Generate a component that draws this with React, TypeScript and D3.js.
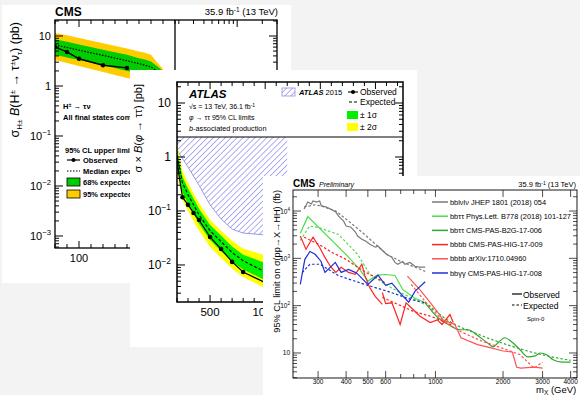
import React from 'react';
import * as d3 from 'd3';

const FONT = 'Liberation Sans, Arial, Helvetica, sans-serif';

// ---------- CMS  H+ -> tau nu (back panel) ----------
const hpMassObs = [80, 90, 100, 120, 140];
const hpObs = [6.0, 4.8, 3.5, 2.6, 2.3];
const hpMassExp = [80, 90, 100, 120, 140, 150, 155, 160, 165, 170];
const hpExp = [6.6, 5.9, 5.2, 4.1, 3.2, 2.8, 2.6, 2.4, 2.0, 1.7];
const hpUp2 = [11.5, 10.3, 9.1, 7.2, 5.6, 4.9, 4.6, 4.2, 3.0, 2.2];
const hpUp1 = [8.6, 7.7, 6.8, 5.3, 4.2, 3.6, 3.4, 3.1, 2.5, 2.0];
const hpDn1 = [4.2, 3.7, 3.3, 2.6, 2.0, 1.8, 1.65, 1.5, 1.3, 1.1];
const hpDn2 = [3.3, 2.9, 2.5, 1.9, 1.45, 1.3, 1.2, 1.1, 0.95, 0.8];
const hpXLabels = [100, 1000];

// ---------- ATLAS  phi -> tau tau (middle panel) ----------
const atMass = [200, 250, 300, 350, 400, 500, 600, 700, 800, 1000];
const atObs = [0.78, 0.18, 0.13, 0.092, 0.068, 0.033, 0.0197, 0.0114, 0.0074, 0.0047];
const atExp = [1.05, 0.33, 0.2, 0.13, 0.085, 0.043, 0.027, 0.017, 0.012, 0.0074];
const atUp2 = [1.7, 0.55, 0.33, 0.21, 0.14, 0.068, 0.043, 0.028, 0.02, 0.0152];
const atUp1 = [1.35, 0.43, 0.26, 0.17, 0.11, 0.055, 0.035, 0.022, 0.0155, 0.0109];
const atDn1 = [0.72, 0.22, 0.135, 0.088, 0.058, 0.029, 0.018, 0.0115, 0.0082, 0.0052];
const atDn2 = [0.52, 0.16, 0.1, 0.065, 0.043, 0.0217, 0.0135, 0.0086, 0.006, 0.0037];
const at2015Mass = [200, 300, 400, 500, 600, 700, 800, 1000, 1200];
const at2015Lim = [1.35, 0.65, 0.3, 0.13, 0.071, 0.046, 0.039, 0.036, 0.035];
const atXLabels = [500, 1000, 1500, 2000];

// ---------- CMS  X -> HH (front panel) ----------
const bblvMassObs = [260, 270, 280, 285, 295, 305, 310, 325, 340, 360, 370, 390, 400, 420, 440, 450, 470, 490, 510, 540, 555, 585, 605, 640, 660, 680, 715, 730, 770, 810, 850, 900];
const bblvObs = [11000, 15500, 14100, 16300, 15500, 16300, 12800, 12200, 11000, 9500, 7800, 6100, 4800, 4550, 3600, 2950, 2540, 2300, 1990, 1720, 1800, 1410, 1220, 1050, 820, 750, 860, 750, 820, 680, 650, 650];
const bblvMassExp = [260, 290, 310, 360, 410, 470, 540, 610, 700, 810, 900];
const bblvExp = [12200, 13500, 12800, 10000, 6100, 3600, 2000, 1200, 860, 650, 530];

const ttMassObs = [250, 270, 400, 460, 500, 550, 600, 660, 715, 800, 900];
const ttObs = [3400, 7600, 1200, 585, 330, 440, 455, 435, 220, 148, 115];
const ttMassExp = [250, 275, 300, 370, 450, 510, 600, 680, 810, 900];
const ttExp = [2400, 4800, 4500, 3200, 1220, 460, 280, 200, 135, 105];

const tbMassObs = [900, 1030, 1130, 1290, 1400, 1530, 1700, 1810, 1900, 2040, 2190, 2380, 2580, 2780, 2920, 3130, 3340, 3670, 4000];
const tbObs = [115, 55, 41, 31, 31, 24, 16.5, 13.5, 16.5, 21, 17, 11.7, 8.3, 8.7, 10, 9.2, 7.2, 6.4, 6.4];
const tbMassExp = [900, 1130, 1580, 2230, 3130, 4000];
const tbExp = [120, 50, 24, 13.5, 8.7, 7];

const b4lMassObs = [250, 265, 285, 305, 320, 340, 360, 380, 410, 440, 470, 485, 510, 540, 580];
const b4lObs = [2950, 1560, 2800, 1700, 1100, 680, 505, 645, 505, 460, 750, 430, 240, 155, 106];
const b4lMassExp = [260, 300, 350, 400, 450, 500, 550, 600];
const b4lExp = [2800, 2000, 1300, 950, 650, 480, 380, 300];

const b4hMassObs = [580, 600, 640, 696, 740, 795, 854, 947, 1020, 1070, 1160, 1200];
const b4hObs = [190, 110, 115, 40, 115, 83, 60, 44, 50, 40, 65, 44];
const b4hMassExp = [580, 700, 800, 960, 1100, 1200];
const b4hExp = [150, 100, 75, 59, 45, 38];

const b4bMassObs = [750, 850, 950, 1030, 1080, 1220, 1300, 1540, 1750, 2000, 2200, 2300, 2400, 2750, 3000];
const b4bObs = [420, 220, 115, 70, 50, 40, 21, 15, 13, 11, 10.5, 5, 4.8, 5, 4.8];
const b4bMassExp = [780, 850, 950, 1100, 1300, 1600, 2000, 2380, 2750, 3000];
const b4bExp = [280, 170, 90, 45, 28, 18, 12.5, 9.2, 4.8, 6.4];

const ggMassObs = [250, 262, 276, 291, 309, 322, 358, 380, 410, 439, 452, 500, 555, 600, 640, 700, 760, 810, 900];
const ggObs = [281, 954, 1400, 1220, 870, 505, 820, 505, 585, 505, 458, 281, 440, 270, 300, 180, 118, 200, 320];
const ggMassExp = [255, 276, 306, 370, 486, 614, 780, 900];
const ggExp = [500, 750, 750, 430, 280, 200, 135, 115];

const hhNames = ['bblνlν JHEP 1801 (2018) 054', 'bbττ Phys.Lett. B778 (2018) 101-127', 'bbττ CMS-PAS-B2G-17-006', 'bbbb CMS-PAS-HIG-17-009', 'bbbb arXiv:1710.04960', 'bbγγ CMS-PAS-HIG-17-008'];
const hhColors = ['#7a7a7a', '#4cdc4c', '#2ea82e', '#ff2424', '#ff5252', '#1f2fd6'];
const hhXLabels = [300, 400, 500, 600, 1000, 2000, 3000, 4000];
const hhXTicks = [300, 400, 500, 600, 700, 800, 900, 1000, 2000, 3000, 4000];

// scales
const hpLin = d3.scaleLinear().domain([80, 180]).range([55, 175]);
const hpLog = d3.scaleLog().domain([180, 3000]).range([175, 277]);
const hpX = (m: number) => (m <= 180 ? hpLin(m) : hpLog(m));
const hpY = d3.scaleLog().domain([5.75e-4, 20.9]).range([248, 20]);

const atX = d3.scaleLinear().domain([200, 2250]).range([177, 403]);
const atY = d3.scaleLog().domain([0.00206, 24.5]).range([302, 82]);

const hhX = d3.scaleLog().domain([232, 4270]).range([293, 577]);
const hhY = d3.scaleLog().domain([2.96, 27800]).range([378, 190]);

function logTicks(lo: number, hi: number) {
  const out: { v: number; major: boolean }[] = [];
  for (let e = Math.floor(Math.log10(lo)); e <= Math.ceil(Math.log10(hi)); e++) {
    for (let k = 1; k < 10; k++) {
      const v = k * Math.pow(10, e);
      if (v >= lo && v <= hi) out.push({ v, major: k === 1 });
    }
  }
  return out;
}

const pathOf = (ms: number[], vs: number[], sx: (m: number) => number, sy: (v: number) => number, curve: any = d3.curveLinear) =>
  d3.line<number>().x(i => sx(ms[i])).y(i => sy(vs[i])).curve(curve)(d3.range(ms.length)) || '';

const bandOf = (ms: number[], lo: number[], hi: number[], sx: (m: number) => number, sy: (v: number) => number) =>
  d3.area<number>().x(i => sx(ms[i])).y0(i => sy(lo[i])).y1(i => sy(hi[i]))(d3.range(ms.length)) || '';

function Pow({ exp, size }: { exp: string; size: number }) {
  return (
    <>
      10<tspan dy={-size * 0.45} fontSize={size * 0.7}>{exp}</tspan>
    </>
  );
}

function HplusPanel() {
  const yt = logTicks(5.75e-4, 20.9);
  const xTop = [...d3.range(80, 181, 10), 200, 300, 400, 500, 600, 700, 800, 900, 1000, 2000, 3000];
  const decLabels = [10, 1, 0.1, 0.01, 0.001];
  return (
    <g>
      <rect x={2} y={5} width={289} height={278} fill="#fff" />
      <g clipPath="url(#clipHp)">
        <path d={bandOf(hpMassExp, hpDn2, hpUp2, hpX, hpY)} fill="#ffcc00" />
        <path d={bandOf(hpMassExp, hpDn1, hpUp1, hpX, hpY)} fill="#00cc00" />
        <path d={pathOf(hpMassExp, hpExp, hpX, hpY)} fill="none" stroke="#000" strokeWidth={1.2} strokeDasharray="1.5,1.5" />
        <path d={pathOf(hpMassObs, hpObs, hpX, hpY)} fill="none" stroke="#000" strokeWidth={1.4} />
        {hpMassObs.map((m, i) => <circle key={i} cx={hpX(m)} cy={hpY(hpObs[i])} r={2.2} fill="#000" />)}
        <line x1={hpX(180)} x2={hpX(180)} y1={20} y2={248} stroke="#000" strokeWidth={1.3} />
      </g>
      <rect x={55} y={20} width={222} height={228} fill="none" stroke="#000" strokeWidth={1.3} />
      {yt.map((t, i) => (
        <g key={i} stroke="#000" strokeWidth={1}>
          <line x1={55} x2={55 + (t.major ? 8 : 4)} y1={hpY(t.v)} y2={hpY(t.v)} />
          <line x1={277} x2={277 - (t.major ? 8 : 4)} y1={hpY(t.v)} y2={hpY(t.v)} />
        </g>
      ))}
      {xTop.map((m, i) => {
        const major = m === 100 || m === 1000;
        return (
          <g key={i} stroke="#000" strokeWidth={1}>
            <line x1={hpX(m)} x2={hpX(m)} y1={20} y2={20 + (major ? 7 : 4)} />
            <line x1={hpX(m)} x2={hpX(m)} y1={248} y2={248 - (major ? 7 : 4)} />
          </g>
        );
      })}
      {decLabels.map((v, i) => (
        <text key={i} x={51} y={hpY(v) + 4} fontSize={11} textAnchor="end">
          {v === 10 ? '10' : v === 1 ? '1' : <Pow exp={'−' + Math.round(-Math.log10(v))} size={11} />}
        </text>
      ))}
      {hpXLabels.map((m, i) => (
        <text key={i} x={hpX(m)} y={262} fontSize={11} textAnchor="middle">{m}</text>
      ))}
      <text x={55} y={16} fontSize={12} fontWeight="bold">CMS</text>
      <text x={278} y={15} fontSize={9.5} textAnchor="end">
        35.9 fb<tspan dy={-3.5} fontSize={6.5}>-1</tspan><tspan dy={3.5}> (13 TeV)</tspan>
      </text>
      <text transform="translate(19,22) rotate(-90)" fontSize={12.5} textAnchor="end">
        σ<tspan dy={3} fontSize={8}>H±</tspan><tspan dy={-3}> </tspan><tspan fontStyle="italic">B</tspan>(H<tspan dy={-4} fontSize={8}>±</tspan><tspan dy={4}> → τ</tspan><tspan dy={-4} fontSize={8}>±</tspan><tspan dy={4}>ν</tspan><tspan dy={3} fontSize={8}>τ</tspan><tspan dy={-3}>) (pb)</tspan>
      </text>
      <g fontSize={7.5} fontWeight="bold">
        <text x={63} y={109}>H<tspan dy={-2.5} fontSize={5.5}>±</tspan><tspan dy={2.5}> → τν</tspan></text>
        <text x={63} y={120}>All final states combined</text>
        <text x={65} y={153}>95% CL upper limits</text>
        <line x1={67} x2={80} y1={160} y2={160} stroke="#000" strokeWidth={1.2} />
        <circle cx={73.5} cy={160} r={2} fill="#000" />
        <text x={83} y={162.5}>Observed</text>
        <line x1={67} x2={80} y1={171} y2={171} stroke="#000" strokeWidth={1.2} strokeDasharray="1.5,1.5" />
        <text x={83} y={173.5}>Median expected</text>
        <rect x={67} y={178} width={13} height={8} fill="#00cc00" stroke="#000" strokeWidth={0.8} />
        <text x={83} y={184.5}>68% expected</text>
        <rect x={67} y={190} width={13} height={8} fill="#ffcc00" stroke="#000" strokeWidth={0.8} />
        <text x={83} y={196.5}>95% expected</text>
      </g>
    </g>
  );
}

function AtlasPanel() {
  const yt = logTicks(0.00206, 24.5);
  const xt = d3.range(200, 2251, 100);
  const decLabels = [10, 1, 0.1, 0.01];
  const hatch = d3.area<number>().x(i => atX(at2015Mass[i])).y0(i => atY(at2015Lim[i])).y1(82)(d3.range(at2015Mass.length)) || '';
  return (
    <g>
      <rect x={130} y={70} width={287} height={277} fill="#fff" />
      <g clipPath="url(#clipAt)">
        <path d={hatch} fill="url(#hatch)" />
        <path d={pathOf(at2015Mass, at2015Lim, atX, atY)} fill="none" stroke="#8080ea" strokeWidth={0.8} />
        <path d={bandOf(atMass, atDn2, atUp2, atX, atY)} fill="#ffff00" />
        <path d={bandOf(atMass, atDn1, atUp1, atX, atY)} fill="#00f000" />
        <path d={pathOf(atMass, atExp, atX, atY)} fill="none" stroke="#000" strokeWidth={1.1} strokeDasharray="3,2" />
        <path d={pathOf(atMass, atObs, atX, atY)} fill="none" stroke="#000" strokeWidth={1.2} />
        {atMass.map((m, i) => <circle key={i} cx={atX(m)} cy={atY(atObs[i])} r={2.3} fill="#000" />)}
      </g>
      <rect x={177} y={82} width={226} height={55} fill="#fff" />
      <line x1={177} x2={403} y1={137} y2={137} stroke="#000" strokeWidth={1} />
      <rect x={177} y={82} width={226} height={220} fill="none" stroke="#000" strokeWidth={1.5} />
      {yt.map((t, i) => (
        <g key={i} stroke="#000" strokeWidth={1}>
          <line x1={177} x2={177 + (t.major ? 8 : 4)} y1={atY(t.v)} y2={atY(t.v)} />
          <line x1={403} x2={403 - (t.major ? 8 : 4)} y1={atY(t.v)} y2={atY(t.v)} />
        </g>
      ))}
      {xt.map((m, i) => {
        const major = m % 500 === 0;
        return (
          <g key={i} stroke="#000" strokeWidth={1}>
            <line x1={atX(m)} x2={atX(m)} y1={82} y2={82 + (major ? 7 : 4)} />
            <line x1={atX(m)} x2={atX(m)} y1={302} y2={302 - (major ? 7 : 4)} />
          </g>
        );
      })}
      {decLabels.map((v, i) => (
        <text key={i} x={171} y={atY(v) + 4} fontSize={12} textAnchor="end">
          {v === 10 ? '10' : v === 1 ? '1' : <Pow exp={'−' + Math.round(-Math.log10(v))} size={12} />}
        </text>
      ))}
      {atXLabels.map((m, i) => (
        <text key={i} x={atX(m)} y={316} fontSize={11.5} textAnchor="middle">{m}</text>
      ))}
      <text transform="translate(142,84) rotate(-90)" fontSize={11} textAnchor="end">
        σ × <tspan fontStyle="italic">B</tspan>(<tspan fontStyle="italic">φ</tspan> → ττ) [pb]
      </text>
      <text x={189} y={98} fontSize={11.5} fontWeight="bold" fontStyle="italic">ATLAS</text>
      <text x={189} y={109} fontSize={7}>√s = 13 TeV, 36.1 fb<tspan dy={-2.5} fontSize={5}>-1</tspan></text>
      <text x={189} y={120} fontSize={7}><tspan fontStyle="italic">φ</tspan> → ττ 95% CL limits</text>
      <text x={189} y={131} fontSize={7.3}><tspan fontStyle="italic">b</tspan>-associated production</text>
      <rect x={282} y={88} width={13} height={8} fill="url(#hatch)" stroke="#8080ea" strokeWidth={0.7} />
      <text x={299} y={95} fontSize={7.5}><tspan fontWeight="bold" fontStyle="italic">ATLAS</tspan> 2015</text>
      <line x1={348} x2={358} y1={92} y2={92} stroke="#000" strokeWidth={1.1} />
      <circle cx={353} cy={92} r={2} fill="#000" />
      <text x={360} y={95} fontSize={8.5}>Observed</text>
      <line x1={349} x2={358} y1={102} y2={102} stroke="#000" strokeWidth={1.1} strokeDasharray="3,2" />
      <text x={360} y={105} fontSize={8.5}>Expected</text>
      <rect x={347} y={111} width={11} height={8} fill="#00f000" />
      <text x={360} y={118} fontSize={8.5}>± 1σ</text>
      <rect x={347} y={123} width={11} height={8} fill="#ffff00" />
      <text x={360} y={130} fontSize={8.5}>± 2σ</text>
    </g>
  );
}

function HHPanel() {
  const series = [
    { mo: bblvMassObs, o: bblvObs, me: bblvMassExp, e: bblvExp, c: hhColors[0], curve: d3.curveLinear },
    { mo: ttMassObs, o: ttObs, me: ttMassExp, e: ttExp, c: hhColors[1], curve: d3.curveLinear },
    { mo: tbMassObs, o: tbObs, me: tbMassExp, e: tbExp, c: hhColors[2], curve: d3.curveMonotoneX },
    { mo: b4lMassObs, o: b4lObs, me: b4lMassExp, e: b4lExp, c: hhColors[3], curve: d3.curveLinear },
    { mo: b4hMassObs, o: b4hObs, me: b4hMassExp, e: b4hExp, c: hhColors[3], curve: d3.curveLinear },
    { mo: b4bMassObs, o: b4bObs, me: b4bMassExp, e: b4bExp, c: hhColors[4], curve: d3.curveLinear },
    { mo: ggMassObs, o: ggObs, me: ggMassExp, e: ggExp, c: hhColors[5], curve: d3.curveLinear },
  ];
  const yt = logTicks(2.96, 27800);
  const decLabels = [10000, 1000, 100, 10];
  return (
    <g>
      <rect x={263} y={176} width={317} height={219} fill="#fff" />
      <g clipPath="url(#clipHH)">
        {series.map((s, i) => (
          <g key={i} fill="none" stroke={s.c} strokeWidth={1.2}>
            <path d={pathOf(s.me, s.e, hhX, hhY, s.curve)} strokeDasharray="2.5,2" />
            <path d={pathOf(s.mo, s.o, hhX, hhY, s.curve)} />
          </g>
        ))}
      </g>
      <rect x={293} y={190} width={284} height={188} fill="none" stroke="#000" strokeWidth={0.9} />
      {yt.map((t, i) => (
        <g key={i} stroke="#000" strokeWidth={0.7}>
          <line x1={293} x2={293 + (t.major ? 8 : 4)} y1={hhY(t.v)} y2={hhY(t.v)} />
          <line x1={577} x2={577 - (t.major ? 8 : 4)} y1={hhY(t.v)} y2={hhY(t.v)} />
        </g>
      ))}
      {hhXTicks.map((m, i) => {
        const major = hhXLabels.includes(m);
        return (
          <g key={i} stroke="#000" strokeWidth={0.7}>
            <line x1={hhX(m)} x2={hhX(m)} y1={378} y2={378 - (major ? 7 : 4)} />
            <line x1={hhX(m)} x2={hhX(m)} y1={190} y2={190 + (major ? 7 : 4)} />
          </g>
        );
      })}
      {decLabels.map((v, i) => (
        <text key={i} x={290} y={hhY(v) + 2.5} fontSize={6.5} textAnchor="end">
          {v === 10 ? '10' : <Pow exp={String(Math.round(Math.log10(v)))} size={6.5} />}
        </text>
      ))}
      {hhXLabels.map((m, i) => (
        <text key={i} x={hhX(m)} y={384} fontSize={6.5} textAnchor="middle">{m}</text>
      ))}
      <text x={536} y={393} fontSize={9.5}>m<tspan dy={2} fontSize={6.5}>X</tspan><tspan dy={-2}> (GeV)</tspan></text>
      <text transform="translate(280,190) rotate(-90)" fontSize={9.2} textAnchor="end">
        95% CL limit on σ(pp→X→HH) (fb)
      </text>
      <text x={293} y={187} fontSize={10} fontWeight="bold">CMS</text>
      <text x={319} y={187} fontSize={7} fontStyle="italic">Preliminary</text>
      <text x={576} y={187} fontSize={7.5} textAnchor="end">
        35.9 fb<tspan dy={-2.5} fontSize={5}>-1</tspan><tspan dy={2.5}> (13 TeV)</tspan>
      </text>
      {hhNames.map((n, i) => {
        const yy = 202 + i * 14.2;
        return (
          <g key={i}>
            <line x1={432} x2={448} y1={yy} y2={yy} stroke={hhColors[i]} strokeWidth={1.5} />
            <text x={450} y={yy + 2.5} fontSize={7.4}>{n}</text>
          </g>
        );
      })}
      <line x1={512} x2={522} y1={294} y2={294} stroke="#000" strokeWidth={1.2} />
      <text x={523} y={297.5} fontSize={8.5}>Observed</text>
      <line x1={512} x2={522} y1={305} y2={305} stroke="#000" strokeWidth={1.2} strokeDasharray="2.5,2" />
      <text x={523} y={308.5} fontSize={8.5}>Expected</text>
      <text x={527} y={321} fontSize={6}>Spin-0</text>
    </g>
  );
}

export default function App() {
  return (
    <svg width={580} height={395} style={{ position: 'absolute', left: 0, top: 0 }} fontFamily={FONT}>
      <defs>
        <clipPath id="clipHp"><rect x={55} y={20} width={222} height={228} /></clipPath>
        <clipPath id="clipAt"><rect x={177} y={82} width={226} height={220} /></clipPath>
        <clipPath id="clipHH"><rect x={293} y={190} width={284} height={188} /></clipPath>
        <pattern id="hatch" width={4.2} height={4.2} patternUnits="userSpaceOnUse" patternTransform="rotate(45)">
          <line x1={0} y1={0} x2={0} y2={4.2} stroke="#6c6ce4" strokeWidth={1.1} />
        </pattern>
      </defs>
      <rect width={580} height={395} fill="#f3f3f3" />
      <HplusPanel />
      <AtlasPanel />
      <HHPanel />
    </svg>
  );
}
